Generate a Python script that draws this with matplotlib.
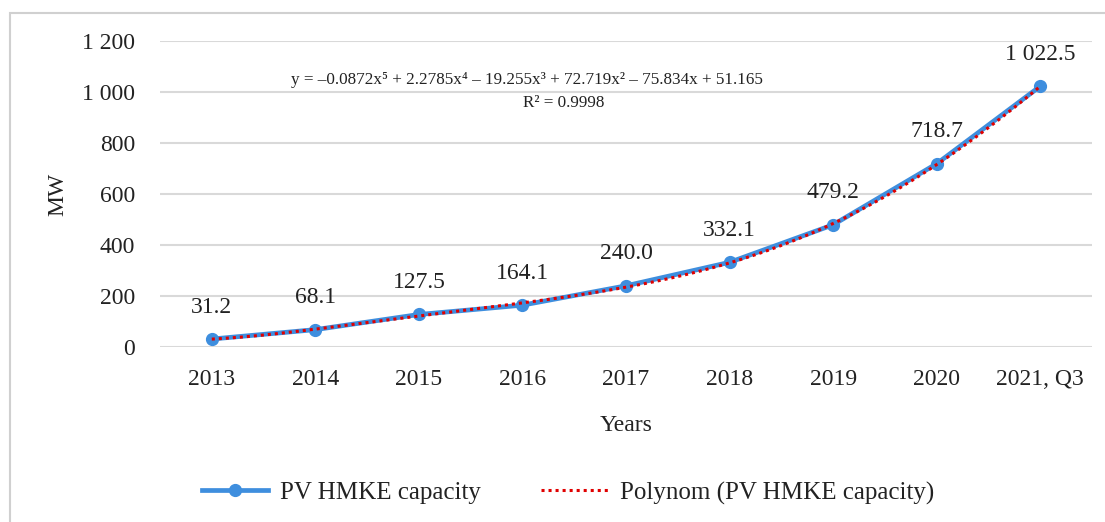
import numpy as np
import matplotlib.pyplot as plt
from matplotlib.patches import Rectangle

plt.rcParams['font.family'] = ['Liberation Serif', 'DejaVu Serif']

years = ['2013', '2014', '2015', '2016', '2017', '2018', '2019', '2020', '2021, Q3']
capacity = [31.2, 68.1, 127.5, 164.1, 240.0, 332.1, 479.2, 718.7, 1022.5]
labels = ['31.2', '68.1', '127.5', '164.1', '240.0', '332.1', '479.2', '718.7', '1 022.5']
# trendline coefficients as printed on the chart (highest power first)
poly_coef = [-0.0872, 2.2785, -19.255, 72.719, -75.834, 51.165]
yticks = [0, 200, 400, 600, 800, 1000, 1200]
yticklabels = ['0', '200', '400', '600', '800', '1 000', '1 200']

blue = '#3E8EDE'
grid_c = '#D9D9D9'
txt_c = '#222222'
fs = 17

fig = plt.figure(figsize=(11.05, 5.22), dpi=100)
fig.patches.append(Rectangle((10 / 1105, -0.1), 1.2, (522 - 13) / 522 + 0.1,
                             transform=fig.transFigure, fill=False,
                             edgecolor='#D0D0D0', linewidth=1.5))

ax = fig.add_axes([160 / 1105, 175 / 522, 932 / 1105, 306 / 522])
x = np.arange(1, len(years) + 1)

line1, = ax.plot(x, capacity, color=blue, linewidth=3.4, marker='o',
                 markersize=8.5, markerfacecolor=blue, markeredgecolor=blue,
                 label='PV HMKE capacity', zorder=3)
xs = np.linspace(1, len(years), 200)
line2, = ax.plot(xs, np.polyval(poly_coef, xs), color='#E00000', linewidth=2.2,
                 linestyle=(0, (1, 1.3)), label='Polynom (PV HMKE capacity)', zorder=4)

for xi, yi, lab in zip(x, capacity, labels):
    ax.annotate(lab, (xi, yi), xytext=(0, 23), textcoords='offset points',
                ha='center', va='center', fontsize=fs, color=txt_c)

ax.set_xlim(0.5, len(years) + 0.5)
ax.set_ylim(0, 1200)
ax.set_xticks(x)
ax.set_xticklabels(years)
ax.set_yticks(yticks)
ax.set_yticklabels(yticklabels)
ax.tick_params(length=0, labelsize=fs, labelcolor=txt_c)
ax.tick_params(axis='y', pad=18)
ax.tick_params(axis='x', pad=16)
ax.grid(axis='y', color=grid_c, linewidth=1.5)
ax.set_axisbelow(True)
for s in ax.spines.values():
    s.set_visible(False)

ax.set_xlabel('Years', fontsize=fs, color=txt_c, labelpad=18)
ax.set_ylabel('MW', fontsize=fs, color=txt_c, labelpad=10)

fig.text(527 / 1105, 1 - 80 / 522,
         'y = –0.0872x⁵ + 2.2785x⁴ – 19.255x³ + 72.719x² – 75.834x + 51.165',
         ha='center', va='center', fontsize=12.3, color=txt_c)
fig.text(564 / 1105, 1 - 103 / 522, 'R² = 0.9998',
         ha='center', va='center', fontsize=12.3, color=txt_c)

fig.legend(handles=[line1, line2], loc='center', bbox_to_anchor=(568 / 1105, 29 / 522),
           ncol=2, frameon=False, fontsize=18, handlelength=2.65,
           handletextpad=0.5, columnspacing=2.4, labelcolor=txt_c)

plt.savefig('out.png', dpi=100)
